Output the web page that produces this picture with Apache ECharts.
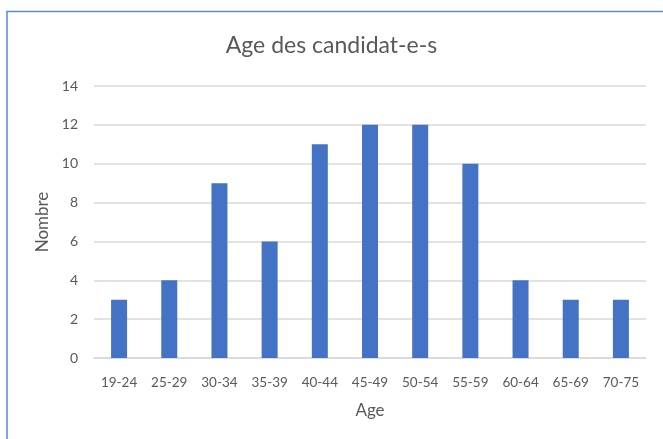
<!DOCTYPE html>
<html><head><meta charset="utf-8">
<script src="https://cdn.jsdelivr.net/npm/echarts@6/dist/echarts.min.js"></script>
<style>html,body{margin:0;padding:0;background:#fff}#c{width:663px;height:439px}</style>
</head><body><div id="c"></div>
<script>
const categories = ['19-24','25-29','30-34','35-39','40-44','45-49','50-54','55-59','60-64','65-69','70-75'];
const counts = [3,4,9,6,11,12,12,10,4,3,3];
const yTicks = {min:0, max:14, interval:2};
const txt = '#595959';
const font = 'Lato';
const chart = echarts.init(document.getElementById('c'), null, {renderer:'canvas'});
chart.setOption({
  animation:false,
  backgroundColor:'#fff',
  title:{text:'Age des candidat-e-s', left:'center', top:29, textStyle:{color:txt, fontSize:23, fontWeight:'normal', fontFamily:font}},
  graphic:[{type:'polyline', shape:{points:[[7,439],[7,11.5],[663,11.5]]}, style:{stroke:'#5b87d6', lineWidth:1.5, fill:null}}],
  grid:{left:94, right:17, top:86, bottom:81},
  xAxis:{type:'category', data:categories, name:'Age', nameLocation:'middle', nameGap:44,
    nameTextStyle:{color:txt, fontSize:17, fontFamily:font},
    axisLine:{lineStyle:{color:'#d9d9d9', width:1.5}}, axisTick:{show:false},
    axisLabel:{color:txt, fontSize:13.5, fontFamily:font, margin:18, interval:0}},
  yAxis:{type:'value', min:yTicks.min, max:yTicks.max, interval:yTicks.interval, name:'Nombre', nameLocation:'middle', nameGap:42, nameRotate:90,
    nameTextStyle:{color:txt, fontSize:17, fontFamily:font},
    axisLine:{show:false}, axisTick:{show:false},
    axisLabel:{color:txt, fontSize:14, fontFamily:font, margin:16},
    splitLine:{lineStyle:{color:'#d9d9d9', width:1.5}}},
  series:[{type:'bar', data:counts, barWidth:16, itemStyle:{color:'#4472c4'}}]
});
</script></body></html>
